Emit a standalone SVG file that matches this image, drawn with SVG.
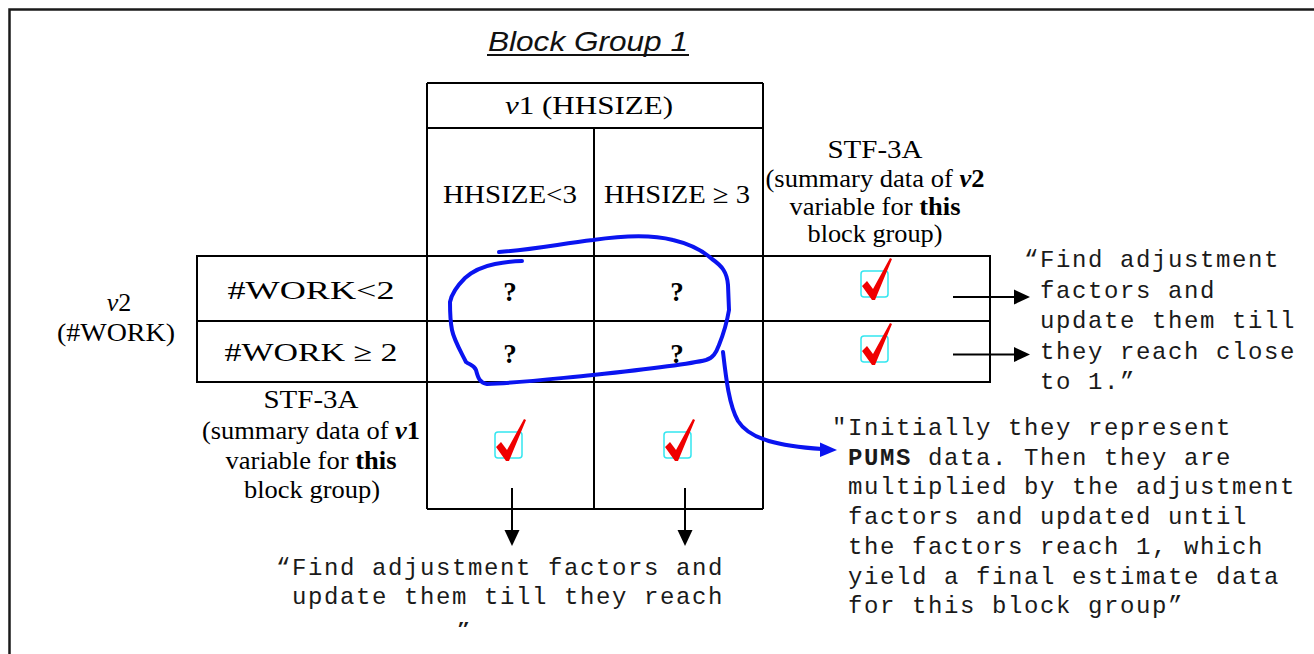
<svg xmlns="http://www.w3.org/2000/svg" width="1314" height="654" viewBox="0 0 1314 654">
  <style>
    .serif { font-family: "Liberation Serif", "Times New Roman", serif; font-size: 26px; fill: #000; }
    .mono { font-family: "Liberation Mono", "Courier New", monospace; font-size: 24px; letter-spacing: 1.6px; fill: #1a1a1a; }
    .grid { stroke: #000; stroke-width: 2; fill: none; }
    .arrow { stroke: #000; stroke-width: 2; fill: none; }
    .pen { stroke: #0a14f0; stroke-width: 4; fill: none; stroke-linecap: round; stroke-linejoin: round; }
    .q { font-family: "Liberation Serif", "Times New Roman", serif; font-size: 27px; font-weight: bold; }
    .mid { text-anchor: middle; }
  </style>
  <defs>
    <g id="tick">
      <rect x="0" y="0" width="27" height="26" rx="3" fill="#ffffff" stroke="#33e6f0" stroke-width="1.5"/>
      <polygon points="1,15 6,10 12,18 29,-13 31,-12 14,29 11,29" fill="#f00000"/>
    </g>
    <clipPath id="noteClip">
      <rect x="0" y="0" width="1314" height="627"/>
    </clipPath>
  </defs>

  <rect x="0" y="0" width="1314" height="654" fill="#ffffff"/>

  <!-- page frame -->
  <g id="frame">
    <path d="M9.5,654 V9.5 H1314" stroke="#1a1a1a" stroke-width="2.5" fill="none"/>
  </g>

  <!-- title -->
  <g id="title">
    <text x="588" y="51" text-anchor="middle" font-family="'Liberation Sans', Arial, sans-serif" font-style="italic" font-size="28" textLength="200" lengthAdjust="spacingAndGlyphs" fill="#111">Block Group 1</text>
    <line x1="487" y1="55" x2="689" y2="55" stroke="#111" stroke-width="2"/>
  </g>

  <!-- table grid -->
  <g id="table">
    <path class="grid" d="M427,83 H763 M427,128 H763 M427,83 V509 M594,128 V509 M763,83 V509 M427,509 H763"/>
    <path class="grid" d="M197,256 H990 V382 H197 Z M197,321 H990"/>
  </g>

  <!-- column header -->
  <g id="header-v1">
    <text class="serif mid" x="589" y="114" textLength="168" lengthAdjust="spacingAndGlyphs"><tspan font-style="italic">v</tspan>1 (HHSIZE)</text>
  </g>
  <g id="col-hhsize-lt3">
    <text class="serif mid" x="510" y="203" textLength="134" lengthAdjust="spacingAndGlyphs">HHSIZE&lt;3</text>
  </g>
  <g id="col-hhsize-ge3">
    <text class="serif mid" x="677" y="203" textLength="146" lengthAdjust="spacingAndGlyphs">HHSIZE ≥ 3</text>
  </g>

  <!-- row header -->
  <g id="header-v2">
    <text class="serif mid" x="119" y="311"><tspan font-style="italic">v</tspan>2</text>
    <text class="serif mid" x="116" y="341" textLength="118" lengthAdjust="spacingAndGlyphs">(#WORK)</text>
  </g>
  <g id="row-work-lt2">
    <text class="serif mid" x="311" y="299" textLength="167" lengthAdjust="spacingAndGlyphs">#WORK&lt;2</text>
  </g>
  <g id="row-work-ge2">
    <text class="serif mid" x="311" y="361" textLength="173" lengthAdjust="spacingAndGlyphs">#WORK ≥ 2</text>
  </g>

  <!-- unknown cells -->
  <g id="cells">
    <text class="q mid" x="510" y="301">?</text>
    <text class="q mid" x="677" y="301">?</text>
    <text class="q mid" x="510" y="363">?</text>
    <text class="q mid" x="677" y="363">?</text>
  </g>

  <!-- STF-3A marginals for v2 -->
  <g id="stf-v2">
    <text class="serif mid" x="875" y="158" textLength="95" lengthAdjust="spacingAndGlyphs">STF-3A</text>
    <text class="serif mid" x="875" y="187" textLength="219" lengthAdjust="spacingAndGlyphs">(summary data of <tspan font-weight="bold" font-style="italic">v</tspan><tspan font-weight="bold">2</tspan></text>
    <text class="serif mid" x="875" y="215" textLength="171" lengthAdjust="spacingAndGlyphs">variable for <tspan font-weight="bold">this</tspan></text>
    <text class="serif mid" x="875" y="242" textLength="135" lengthAdjust="spacingAndGlyphs">block group)</text>
    <use href="#tick" x="861" y="271"/>
    <use href="#tick" x="861" y="336"/>
  </g>

  <!-- STF-3A marginals for v1 -->
  <g id="stf-v1">
    <text class="serif mid" x="311" y="408" textLength="95" lengthAdjust="spacingAndGlyphs">STF-3A</text>
    <text class="serif mid" x="311" y="439" textLength="218" lengthAdjust="spacingAndGlyphs">(summary data of <tspan font-weight="bold" font-style="italic">v</tspan><tspan font-weight="bold">1</tspan></text>
    <text class="serif mid" x="311" y="469" textLength="171" lengthAdjust="spacingAndGlyphs">variable for <tspan font-weight="bold">this</tspan></text>
    <text class="serif mid" x="312" y="498" textLength="136" lengthAdjust="spacingAndGlyphs">block group)</text>
    <use href="#tick" x="495" y="432"/>
    <use href="#tick" x="664" y="432"/>
  </g>

  <!-- connectors -->
  <g id="connectors">
    <line class="arrow" x1="953" y1="297" x2="1016" y2="297"/>
    <polygon points="1014,289.5 1030,297 1014,304.5" fill="#000"/>
    <line class="arrow" x1="953" y1="354.5" x2="1016" y2="354.5"/>
    <polygon points="1014,347 1030,354.5 1014,362" fill="#000"/>
    <line class="arrow" x1="512" y1="488" x2="512" y2="532"/>
    <polygon points="504.5,530 512,546 519.5,530" fill="#000"/>
    <line class="arrow" x1="685" y1="488" x2="685" y2="532"/>
    <polygon points="677.5,530 685,546 692.5,530" fill="#000"/>

    <!-- hand-drawn loop around the unknown cells -->
    <path class="pen" d="M499,252 C530,250 560,244 593,240 C620,236 650,234 673,240 C690,244 702,250 712,259 C722,266 727,272 728,285 L729,310 C727,322 723,335 719,345 C716,353 713,358 706,360 C690,364 640,370 593,375 C560,378 520,383 487,384 C480,383 478,378 476,370 C474,365 470,365 466,362 C460,350 454,340 452,330 C450,320 450,310 450,302 C452,292 458,285 465,278 C474,270 485,266 495,264 C505,262 515,261 522,261"/>
    <!-- pen stroke leading to the note -->
    <path class="pen" d="M723,352 C726,378 729,405 738,421 C750,440 780,446 822,449"/>
    <polygon points="820,442.5 837,450 820,457" fill="#0a14f0"/>
  </g>

  <!-- notes -->
  <g id="note-v2">
    <text class="mono" x="1024" y="267">“Find adjustment</text>
    <text class="mono" x="1040" y="297.5">factors and</text>
    <text class="mono" x="1040" y="328">update them till</text>
    <text class="mono" x="1040" y="358.5">they reach close</text>
    <text class="mono" x="1040" y="389">to 1.”</text>
  </g>

  <g id="note-cells">
    <text class="mono" x="832" y="435">"Initially they represent</text>
    <text class="mono" x="848" y="464.7"><tspan font-weight="bold">PUMS</tspan> data. Then they are</text>
    <text class="mono" x="848" y="494.4">multiplied by the adjustment</text>
    <text class="mono" x="848" y="524">factors and updated until</text>
    <text class="mono" x="848" y="553.8">the factors reach 1, which</text>
    <text class="mono" x="848" y="583.5">yield a final estimate data</text>
    <text class="mono" x="848" y="613">for this block group”</text>
  </g>

  <g id="note-v1" clip-path="url(#noteClip)">
    <text class="mono" x="276" y="575">“Find adjustment factors and</text>
    <text class="mono" x="292" y="604">update them till they reach</text>
    <text class="mono" x="456" y="640">”</text>
  </g>
</svg>
